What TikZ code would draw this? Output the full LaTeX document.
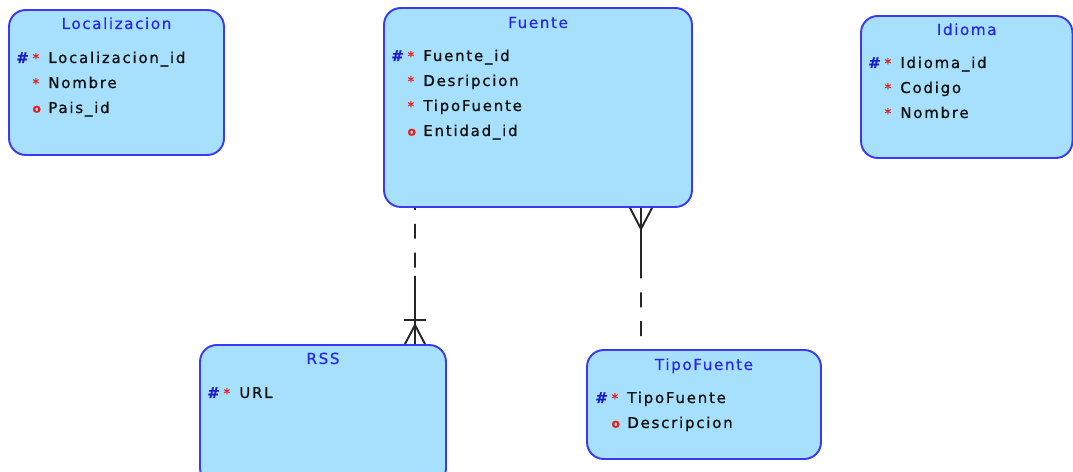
\documentclass[tikz,border=0pt]{standalone}
\usepackage{fontspec}
\setmainfont{DejaVu Sans}[LetterSpace=12]
\newfontfamily\attrfont{DejaVu Sans}[LetterSpace=12, FakeBold=0.9]
\newfontfamily\titlefont{DejaVu Sans}[LetterSpace=10, FakeBold=0.4]
\usetikzlibrary{calc}

\definecolor{entfill}{HTML}{A6E0FD}
\definecolor{entline}{HTML}{3A3AF2}
\definecolor{titleblue}{HTML}{2626E6}
\definecolor{pkblue}{HTML}{1C1CC8}
\definecolor{reqred}{HTML}{E81C1C}
\definecolor{attrtext}{HTML}{101010}

% markers in front of the attributes
\newcommand{\pkmark}{\makebox[0pt][c]{\textcolor{pkblue}{\bfseries\#}}}
\newcommand{\reqmark}{\makebox[0pt][c]{\textcolor{reqred}{\fontsize{7.5}{7.5}\selectfont*}}}
\newcommand{\optmark}{\makebox[0pt][c]{\raisebox{0.2pt}{\textcolor{reqred}{\fontsize{7}{7}\selectfont\bfseries o}}}}
\newcommand{\pkattr}[1]{\llap{\pkmark\hspace{7.6pt}\reqmark\hspace{7.1pt}}#1}
\newcommand{\reqattr}[1]{\llap{\reqmark\hspace{7.1pt}}#1}
\newcommand{\optattr}[1]{\llap{\optmark\hspace{6.6pt}}#1}

\begin{document}
\begin{tikzpicture}[x=0.02cm, y=-0.02cm,
	entity/.style = {draw = entline, fill = entfill, line width = 1.1pt,
					 rounded corners = 9.5pt, inner sep = 0pt},
	title/.style = {text = titleblue, anchor = base, inner sep = 0pt,
					font = \titlefont\fontsize{8.7}{10}\selectfont},
	attr/.style = {text = attrtext, anchor = base west, inner sep = 0pt,
				   font = \attrfont\fontsize{8.5}{10}\selectfont},
	link/.style = {line width = 1.1pt, draw = black!85},
	optional/.style = {link, dash pattern = on 8.5pt off 7.9pt}]
	\useasboundingbox (0,0) rectangle (1073,472);

	% entities
	\node[entity, minimum width = 4.3cm, minimum height = 2.9cm] (loc) at (116.5, 82.5) {};
	\node[entity, minimum width = 6.16cm, minimum height = 3.98cm] (fuente) at (538, 107.5) {};
	\node[entity, minimum width = 4.23cm, minimum height = 2.84cm] (idioma) at (966.75, 87) {};
	\node[entity, minimum width = 4.92cm, minimum height = 2.8cm] (rss) at (323, 415) {};
	\node[entity, minimum width = 4.68cm, minimum height = 2.18cm] (tipo) at (704, 404.5) {};

	% Localizacion
	\node[title] (loc-t) at (116.5, 29) {Localizacion};
	\node[attr] (loc-1) at (48, 63) {\pkattr{Localizacion\_id}};
	\node[attr] (loc-2) at (48, 88) {\reqattr{Nombre}};
	\node[attr] (loc-3) at (48, 113) {\optattr{Pais\_id}};

	% Fuente
	\node[title] (fuente-t) at (538, 28) {Fuente};
	\node[attr] (fuente-1) at (423, 61) {\pkattr{Fuente\_id}};
	\node[attr] (fuente-2) at (423, 86) {\reqattr{Desripcion}};
	\node[attr] (fuente-3) at (423, 111) {\reqattr{TipoFuente}};
	\node[attr] (fuente-4) at (423, 136) {\optattr{Entidad\_id}};

	% Idioma
	\node[title] (idioma-t) at (966.75, 35) {Idioma};
	\node[attr] (idioma-1) at (900, 68) {\pkattr{Idioma\_id}};
	\node[attr] (idioma-2) at (900, 93) {\reqattr{Codigo}};
	\node[attr] (idioma-3) at (900, 118) {\reqattr{Nombre}};

	% RSS
	\node[title] (rss-t) at (323, 364) {RSS};
	\node[attr] (rss-1) at (239, 398) {\pkattr{URL}};

	% TipoFuente
	\node[title] (tipo-t) at (704, 370) {TipoFuente};
	\node[attr] (tipo-1) at (627, 403) {\pkattr{TipoFuente}};
	\node[attr] (tipo-2) at (627, 428) {\optattr{Descripcion}};

	% Fuente -- RSS
	\coordinate (fr-a) at (fuente.south -| 415,0);
	\coordinate (fr-b) at (rss.north -| 415,0);
	\coordinate (fr-m) at ($(fr-a)!0.5!(fr-b)$);
	\draw[optional, dash phase = 7.4pt] (fr-a) -- (fr-m);
	\draw[link] (fr-m) -- (fr-b);
	\draw[link] ($(fr-b)+(-11,-24)$) -- ($(fr-b)+(11,-24)$);
	\draw[link] ($(fr-b)+(-10,0)$) -- ($(fr-b)+(0,-19)$) -- ($(fr-b)+(10,0)$);

	% Fuente -- TipoFuente
	\coordinate (ft-a) at (fuente.south -| 641,0);
	\coordinate (ft-b) at (tipo.north -| 641,0);
	\coordinate (ft-m) at ($(ft-a)!0.5!(ft-b)$);
	\draw[link] (ft-a) -- (ft-m);
	\draw[optional, dash phase = 8.5pt] (ft-m) -- (ft-b);
	\draw[link] ($(ft-a)+(-11,0)$) -- ($(ft-a)+(0,21)$) -- ($(ft-a)+(11,0)$);
\end{tikzpicture}
\end{document}
